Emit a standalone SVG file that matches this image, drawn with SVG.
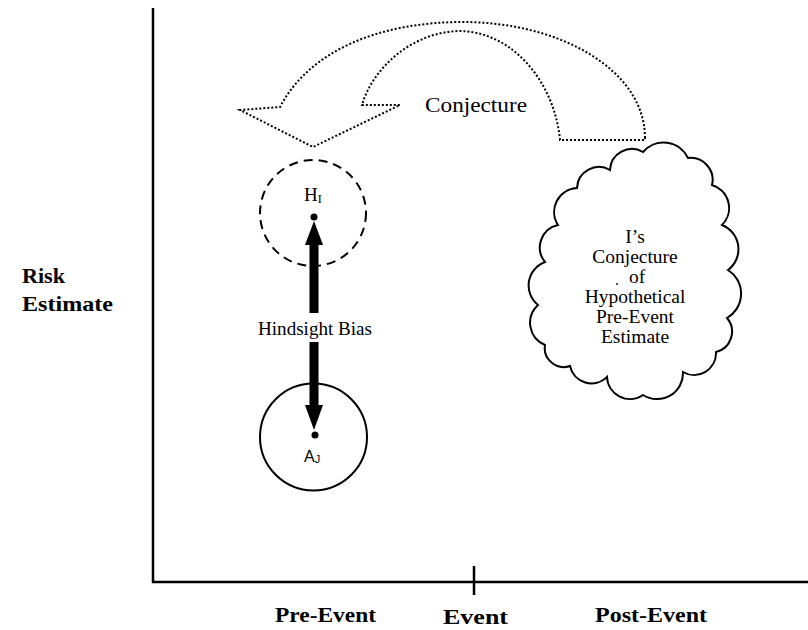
<svg xmlns="http://www.w3.org/2000/svg" width="808" height="630" viewBox="0 0 808 630">
<style>
.serif{font-family:"Liberation Serif","Times New Roman",serif;fill:#000}
.bold{font-weight:bold}
.ax{stroke:#000;stroke-width:2.5;fill:none}
.dot{fill:#000}
</style>
<rect width="808" height="630" fill="#fff"/>
<g id="axes">
<line class="ax" x1="153" y1="8" x2="153" y2="583"/>
<line class="ax" x1="152" y1="582" x2="808" y2="582"/>
<line class="ax" x1="474" y1="566" x2="474" y2="595"/>
<text class="serif bold" x="22" y="283" font-size="21" textLength="43" lengthAdjust="spacingAndGlyphs">Risk</text>
<text class="serif bold" x="22" y="311" font-size="21" textLength="91" lengthAdjust="spacingAndGlyphs">Estimate</text>
<text class="serif bold" x="275" y="622" font-size="20" textLength="101" lengthAdjust="spacingAndGlyphs">Pre-Event</text>
<text class="serif bold" x="443" y="624" font-size="22" textLength="65" lengthAdjust="spacingAndGlyphs">Event</text>
<text class="serif bold" x="595" y="622" font-size="20" textLength="112" lengthAdjust="spacingAndGlyphs">Post-Event</text>
</g>
<g id="node-H">
<circle cx="313" cy="213" r="53" fill="none" stroke="#000" stroke-width="2" stroke-dasharray="9 6"/>
<text class="serif" x="304" y="201" font-size="19">H<tspan font-size="12" dy="2">I</tspan></text>
<circle class="dot" cx="314" cy="217" r="3.5"/>
</g>
<g id="node-A">
<circle cx="313.5" cy="437" r="53.5" fill="none" stroke="#000" stroke-width="2"/>
<circle class="dot" cx="315" cy="435" r="3.5"/>
<text x="304" y="462" font-family="Liberation Sans, Arial, sans-serif" font-size="16">A<tspan font-size="11" dy="1">J</tspan></text>
</g>
<g id="node-cloud">
<path d="M643,152 A27,27 0 0 1 688,158 A22,22 0 0 1 712,185 A24,24 0 0 1 722,225 A26,26 0 0 1 728,270 A28,28 0 0 1 727,318 A21,21 0 0 1 716,352 A22,22 0 0 1 683,372 A26,26 0 0 1 643,395 A23,23 0 0 1 607,377 A22,22 0 0 1 570,366 A19,19 0 0 1 545,345 A24,24 0 0 1 538,305 A25,25 0 0 1 545,262 A23,23 0 0 1 558,225 A24,24 0 0 1 577,188 A22,22 0 0 1 610,170 A22,22 0 0 1 643,152 Z" fill="#fff" stroke="#000" stroke-width="2"/>
<g class="serif" font-size="19.5" text-anchor="middle">
<text x="635" y="243">I’s</text>
<text x="635" y="263">Conjecture</text>
<text x="637" y="283">of</text>
<text x="635" y="303">Hypothetical</text>
<text x="635" y="323">Pre-Event</text>
<text x="635" y="343">Estimate</text>
</g>
<circle class="dot" cx="617" cy="284" r="0.9"/>
</g>
<g id="connectors">
<path d="M645,138 C645,70 560,22 463,22 C380,22 310,50 280,107 L240,110 L313,147 L400,105 L362,105 C372,70 410,32 460,31 C515,32 555,85 560,140 L645,140 Z" fill="none" stroke="#000" stroke-width="2" stroke-dasharray="2 2"/>
<text class="serif" x="425" y="112" font-size="20" textLength="102" lengthAdjust="spacingAndGlyphs">Conjecture</text>
<rect x="309.5" y="243" width="9" height="70" fill="#000"/>
<polygon points="305,245 323,245 314,221" fill="#000"/>
<rect x="309.5" y="342" width="9" height="65" fill="#000"/>
<polygon points="305,405 323,405 314,430" fill="#000"/>
<text class="serif" x="258" y="335" font-size="19.5" textLength="114" lengthAdjust="spacingAndGlyphs">Hindsight Bias</text>
</g>
</svg>
